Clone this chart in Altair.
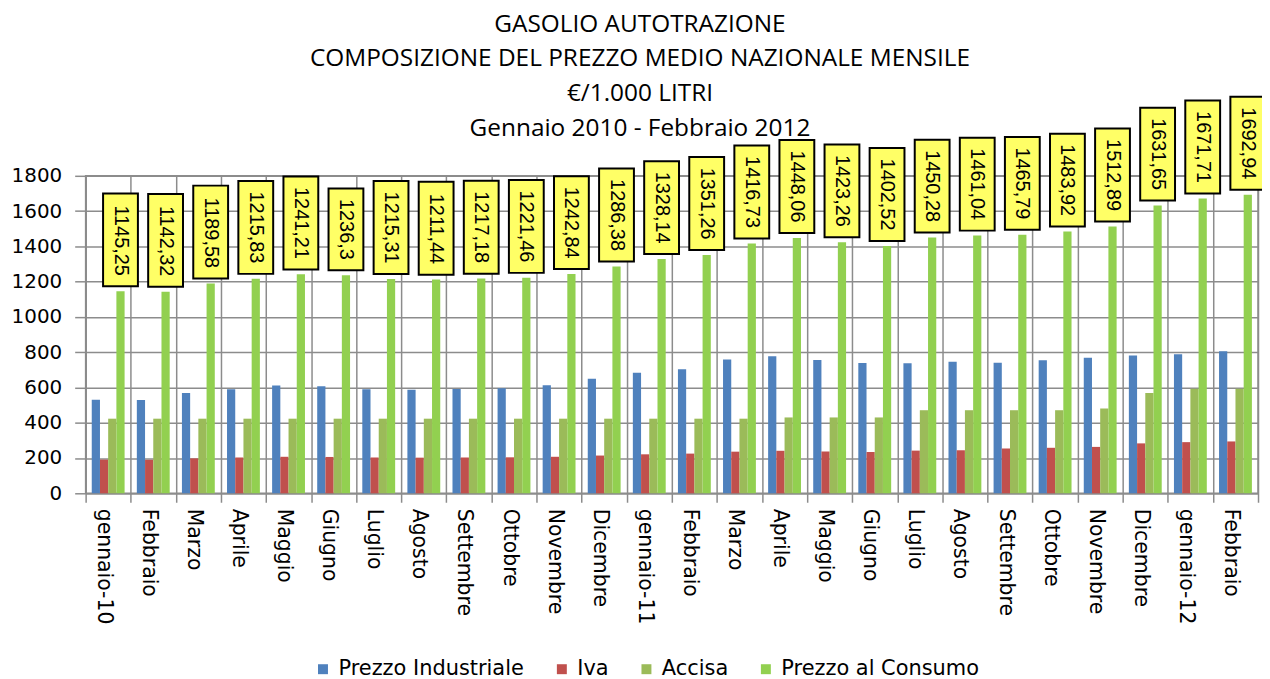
import altair as alt
import pandas as pd

mesi = ["gennaio-10", "Febbraio", "Marzo", "Aprile", "Maggio", "Giugno", "Luglio",
        "Agosto", "Settembre", "Ottobre", "Novembre", "Dicembre", "gennaio-11",
        "Febbraio", "Marzo", "Aprile", "Maggio", "Giugno", "Luglio", "Agosto",
        "Settembre", "Ottobre", "Novembre", "Dicembre", "gennaio-12", "Febbraio"]
prezzo_industriale = [531, 529, 568, 590, 611, 607, 590, 587, 591, 595, 613, 649, 684,
                      703, 758, 777, 756, 739, 737, 746, 740, 755, 769, 781, 789, 806]
iva = [191, 190, 198, 203, 207, 206, 203, 202, 203, 204, 207, 214, 221,
       225, 236, 241, 237, 234, 242, 244, 254, 258, 263, 283, 290, 294]
accisa = [423, 423, 423, 423, 423, 423, 423, 423, 423, 423, 423, 423, 423,
          423, 423, 430, 430, 430, 471, 471, 471, 471, 481, 568, 593, 593]
prezzo_consumo = [1145.25, 1142.32, 1189.58, 1215.83, 1241.21, 1236.3, 1215.31, 1211.44,
                  1217.18, 1221.46, 1242.84, 1286.38, 1328.14, 1351.26, 1416.73, 1448.06,
                  1423.26, 1402.52, 1450.28, 1461.04, 1465.79, 1483.92, 1512.89, 1631.65,
                  1671.71, 1692.94]
serie = ["Prezzo Industriale", "Iva", "Accisa", "Prezzo al Consumo"]
colori = ["#4F81BD", "#C0504D", "#9BBB59", "#92D050"]
titolo = ["GASOLIO AUTOTRAZIONE",
          "COMPOSIZIONE DEL PREZZO MEDIO  NAZIONALE MENSILE",
          "€/1.000  LITRI",
          "Gennaio 2010 - Febbraio 2012"]

keys = [f"{m}|{i}" for i, m in enumerate(mesi)]
rows = []
for k, a, b, c, d in zip(keys, prezzo_industriale, iva, accisa, prezzo_consumo):
    for s, v in zip(serie, (a, b, c, d)):
        rows.append({"mese": k, "serie": s, "valore": v})
df = pd.DataFrame(rows)
lab = pd.DataFrame({"mese": keys, "serie": "Prezzo al Consumo", "valore": prezzo_consumo,
                    "etichetta": [str(v).replace(".", ",") for v in prezzo_consumo]})

W, H, YMAX = 1178, 319, 1800
u = YMAX / H
GRID = "#8c8c8c"
FONT = "DejaVu Sans"

x_enc = alt.X("mese:N", sort=keys, title=None,
              scale=alt.Scale(paddingInner=0, paddingOuter=0),
              axis=alt.Axis(labelExpr="datum.label ? split(datum.label,'|')[0] : ''",
                            labelAngle=90,
                            labelAlign="left", labelBaseline="top", labelOffset=5,
                            tickBand="extent", grid=True, gridColor=GRID, gridWidth=1.5,
                            tickColor=GRID, tickWidth=1.5, domainColor=GRID, domainWidth=1.5,
                            tickSize=9, labelPadding=6,
                            labelFont=FONT, labelFontSize=20.5, labelColor="black"))
xo = alt.XOffset("serie:N", scale=alt.Scale(domain=serie, paddingOuter=0.745, paddingInner=0))
yscale = alt.Scale(domain=[0, YMAX], nice=False)
yaxis = alt.Axis(values=list(range(0, 1801, 200)), format="d", grid=True, gridColor=GRID,
                 gridWidth=1.5, tickColor=GRID, tickWidth=1.5, domainColor=GRID,
                 domainWidth=1.5, tickSize=11, labelPadding=13,
                 labelFont=FONT, labelFontSize=20, labelColor="black", title=None)

bars = alt.Chart(df).mark_bar().encode(
    x=x_enc, xOffset=xo,
    y=alt.Y("valore:Q", scale=yscale, axis=yaxis),
    color=alt.Color("serie:N", scale=alt.Scale(domain=serie, range=colori),
                    legend=alt.Legend(title=None, orient="none", direction="horizontal",
                                      legendX=228, legendY=485, padding=0,
                                      symbolType="square", symbolSize=100,
                                      symbolStrokeWidth=0, labelFont=FONT,
                                      labelFontSize=21, labelColor="black", labelLimit=0,
                                      labelOffset=5, columnPadding=27)),
)

box = alt.Chart(lab).transform_calculate(
    y1=f"datum.valore + 5*{u}",
    y2=f"datum.valore + (5 + 26.6 + 11.12*(length(datum.etichetta)-1))*{u}",
).mark_bar(width=35, fill="#FFFF66", stroke="black", strokeWidth=2).encode(
    x=x_enc, xOffset=xo,
    y=alt.Y("y1:Q", scale=yscale, axis=yaxis), y2="y2:Q",
)

txt = alt.Chart(lab).mark_text(angle=90, align="right", baseline="middle", yOffset=-15.5,
                               font="Liberation Sans", fontSize=20, color="black").encode(
    x=x_enc, xOffset=xo,
    y=alt.Y("valore:Q", scale=yscale, axis=yaxis),
    text="etichetta:N",
)

chart = alt.layer(bars, box, txt).properties(
    width=W, height=H,
    title=alt.Title(text=titolo, font="Open Sans", fontSize=24.5, fontWeight="normal",
                    color="black", lineHeight=35, offset=-46, dx=-32),
    autosize=alt.AutoSizeParams(type="none"),
    padding={"left": 78, "top": 167, "right": 4, "bottom": 189},
).configure_view(stroke=GRID, strokeWidth=1.5)

chart.save("out.html", embed_options={"renderer": "svg", "actions": False})
